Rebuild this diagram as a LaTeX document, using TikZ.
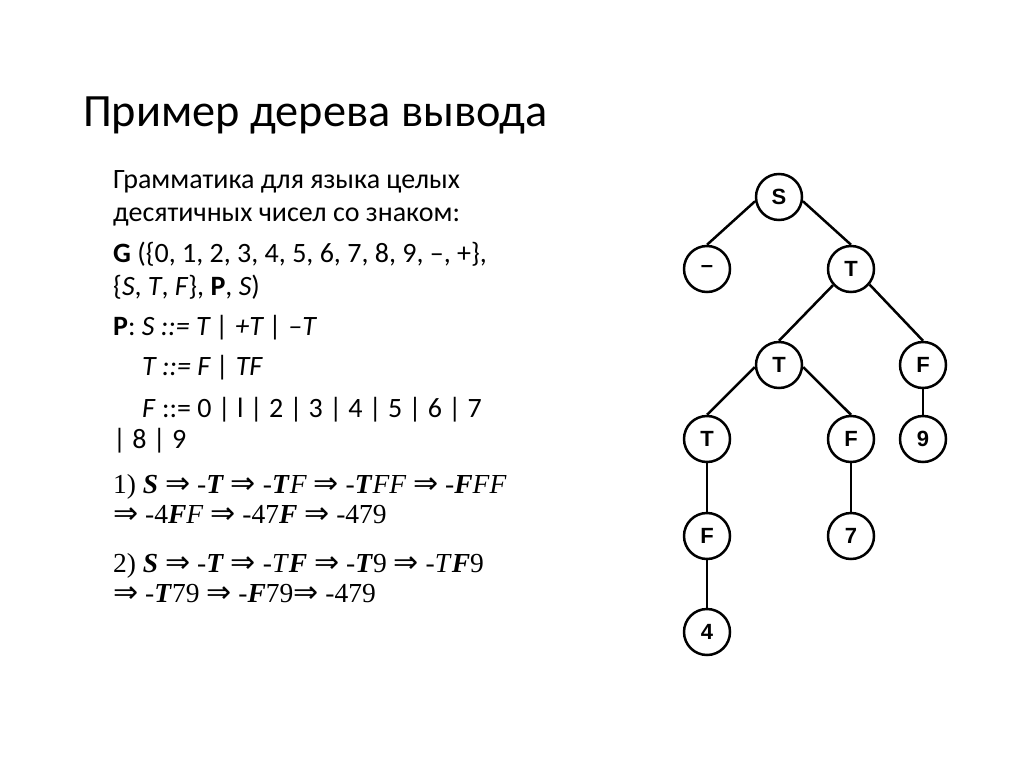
\documentclass[tikz,border=0pt]{standalone}
\usepackage{fontspec}
\setmainfont{Carlito}
\newfontfamily\treefont{Liberation Sans}
\newfontfamily\derivfont{Liberation Serif}
\newfontfamily\arrowfont{DejaVu Sans}
\usetikzlibrary{positioning}
\tikzset{
    tree node/.style = {
        draw, circle,
        line width=2.5pt,
        minimum size=46pt,
        inner sep=0pt,
        font=\treefont\bfseries\fontsize{22}{22}\selectfont,
        },
    tree edge/.style = {
        draw,
        line width=2.5pt,
        },
    title line/.style = {
        anchor=base west,
        inner sep=0pt,
        font=\fontsize{46.3}{52}\selectfont,
        },
    body line/.style = {
        anchor=base west,
        inner sep=0pt,
        font=\fontsize{28}{32}\selectfont,
        },
    deriv line/.style = {
        anchor=base west,
        inner sep=0pt,
        font=\derivfont\fontsize{27.5}{30}\selectfont,
        },
}
\newcommand{\bi}[1]{\textbf{\textit{#1}}}
\newcommand{\arr}{{\arrowfont\fontsize{30}{30}\selectfont ⇒}}
\newcommand{\yl}{ \arr{} }

\begin{document}
\begin{tikzpicture}[x=1pt, y=-1pt]
    \useasboundingbox (0,0) rectangle (1024,767);

    % title and grammar
    \node[title line] (title) at (83,127) {Пример дерева вывода};
    \node[body line] (gram1) at (113,189) {Грамматика для языка целых};
    \node[body line] (gram2) at (113,222) {десятичных чисел со знаком:};
    \node[body line] (gram3) at (113,262) {\textbf{G} (\{0, 1, 2, 3, 4, 5, 6, 7, 8, 9, –, +\},};
    \node[body line] (gram4) at (113,295) {\{\textit{S}, \textit{T}, \textit{F}\}, \textbf{P}, \textit{S})};
    \node[body line] (rule1) at (113,335) {\textbf{P}: \textit{S ::= T | +T | –T}};
    \node[body line] (rule2) at (142,375) {\textit{T ::= F | TF}};
    \node[body line] (rule3) at (142,417) {\textit{F} ::= 0 | l | 2 | 3 | 4 | 5 | 6 | 7};
    \node[body line] (rule4) at (113,448) {| 8 | 9};

    % derivations
    \node[deriv line] (der1a) at (113,493) {1) \bi{S}\yl-\bi{T}\yl-\bi{T}\textit{F}\yl-\bi{T}\textit{FF}\yl-\bi{F}\textit{FF}};
    \node[deriv line] (der1b) at (113,523) {\arr{} -4\bi{F}\textit{F}\yl-47\bi{F}\yl-479};
    \node[deriv line] (der2a) at (113,572) {2) \bi{S}\yl-\bi{T}\yl-\textit{T}\bi{F}\yl-\bi{T}9\yl-\textit{T}\bi{F}9};
    \node[deriv line] (der2b) at (113,602) {\arr{} -\bi{T}79\yl-\bi{F}79\arr{} -479};

    % derivation tree
    \node[tree node] (S) at (779,197) {S};
    \node[tree node] (minus) at (707,269) {–};
    \node[tree node] (T1) at (851,269) {T};
    \node[tree node] (T2) at (779,365) {T};
    \node[tree node] (F1) at (923,365) {F};
    \node[tree node] (T3) at (707,439) {T};
    \node[tree node] (F2) at (851,439) {F};
    \node[tree node] (nine) at (923,439) {9};
    \node[tree node] (F3) at (707,536) {F};
    \node[tree node] (seven) at (851,536) {7};
    \node[tree node] (four) at (707,632) {4};

    \path[tree edge] (S.190) -- (minus.north);
    \path[tree edge] (S.-10) -- (T1.north);
    \path[tree edge] (T1.222) -- (T2.north);
    \path[tree edge] (T1.-40) -- (F1.north);
    \path[tree edge] (T2.185) -- (T3.north);
    \path[tree edge] (T2.-5) -- (F2.north);
    \path[tree edge] (F1.south) -- (nine.north);
    \path[tree edge] (T3.south) -- (F3.north);
    \path[tree edge] (F2.south) -- (seven.north);
    \path[tree edge] (F3.south) -- (four.north);
\end{tikzpicture}
\end{document}
